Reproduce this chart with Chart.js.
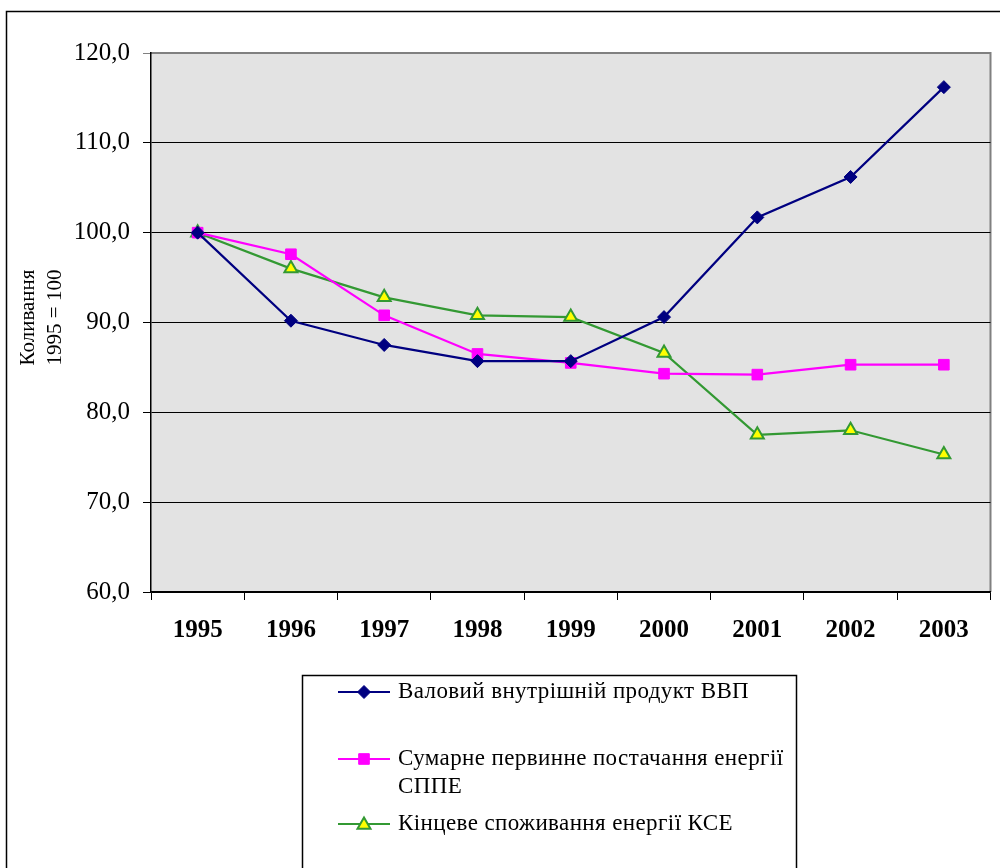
<!DOCTYPE html>
<html>
<head>
<meta charset="utf-8">
<script src="https://cdn.jsdelivr.net/npm/chart.js@4.4.1/dist/chart.umd.min.js"></script>
<style>
html,body{margin:0;padding:0;background:#fff;}
canvas{display:block;}
</style>
</head>
<body>
<canvas id="c" width="1000" height="868"></canvas>
<script>
const years = ['1995','1996','1997','1998','1999','2000','2001','2002','2003'];
const gdp  = [100.0, 90.2, 87.5, 85.7, 85.7, 90.6, 101.7, 106.2, 116.2];
const sppe = [100.0, 97.6, 90.8, 86.5, 85.5, 84.3, 84.2, 85.3, 85.3];
const kce  = [100.0, 96.0, 92.8, 90.8, 90.6, 86.6, 77.5, 78.0, 75.3];
const seriesNames = ['Валовий внутрішній продукт ВВП', 'Сумарне первинне постачання енергії СППЕ', 'Кінцеве споживання енергії КСЕ'];
const yTitle = ['Коливання', '1995 = 100'];

const SERIF = '"Liberation Serif", "Times New Roman", serif';

const decor = {
  id: 'decor',
  beforeDraw(chart) {
    const ctx = chart.ctx, a = chart.chartArea;
    ctx.save();
    ctx.fillStyle = '#fff';
    ctx.fillRect(0, 0, chart.width, chart.height);
    ctx.strokeStyle = '#000';
    ctx.lineWidth = 1.5;
    ctx.beginPath();
    ctx.moveTo(6.5, 869); ctx.lineTo(6.5, 11.5); ctx.lineTo(1001, 11.5);
    ctx.stroke();
    ctx.fillStyle = '#E3E3E3';
    ctx.fillRect(a.left, a.top, a.right - a.left, a.bottom - a.top);
    ctx.strokeStyle = '#808080';
    ctx.lineWidth = 2;
    ctx.beginPath();
    ctx.moveTo(a.left, a.top); ctx.lineTo(a.right, a.top); ctx.lineTo(a.right, a.bottom);
    ctx.stroke();
    ctx.restore();
  },
  afterDraw(chart) {
    const ctx = chart.ctx, a = chart.chartArea;
    ctx.save();
    // y title
    ctx.fillStyle = '#000';
    ctx.font = '21px ' + SERIF;
    ctx.textAlign = 'center';
    ctx.textBaseline = 'middle';
    const cy = (a.top + a.bottom) / 2 - 5;
    [[28, yTitle[0]], [55, yTitle[1]]].forEach(([x, t]) => {
      ctx.save();
      ctx.translate(x, cy);
      ctx.rotate(-Math.PI / 2);
      ctx.fillText(t, 0, 0);
      ctx.restore();
    });
    // legend box
    ctx.strokeStyle = '#000';
    ctx.lineWidth = 1.5;
    ctx.beginPath();
    ctx.moveTo(302.5, 870); ctx.lineTo(302.5, 675.5); ctx.lineTo(796.5, 675.5); ctx.lineTo(796.5, 870);
    ctx.stroke();
    const items = [
      {ds: 0, lines: [seriesNames[0]], y: 692},
      {ds: 1, lines: ['Сумарне первинне постачання енергії', 'СППЕ'], y: 759},
      {ds: 2, lines: [seriesNames[2]], y: 824}
    ];
    items.forEach(it => {
      const d = chart.data.datasets[it.ds];
      ctx.strokeStyle = d.borderColor;
      ctx.lineWidth = 2.2;
      ctx.beginPath();
      ctx.moveTo(338, it.y); ctx.lineTo(390, it.y);
      ctx.stroke();
      ctx.fillStyle = d.pointBackgroundColor;
      ctx.strokeStyle = d.pointBorderColor;
      ctx.lineWidth = d.pointBorderWidth;
      Chart.helpers.drawPoint(ctx, {
        pointStyle: d.pointStyle, radius: d.pointRadius, borderWidth: d.pointBorderWidth, rotation: 0
      }, 364, it.y + (d.pointStyle === 'triangle' ? 1 : 0));
      ctx.fillStyle = '#000';
      ctx.font = '23px ' + SERIF;
      ctx.textAlign = 'left';
      ctx.textBaseline = 'middle';
      try { ctx.letterSpacing = '0.4px'; } catch (e) {}
      it.lines.forEach((t, i) => ctx.fillText(t, 398, it.y + i * 28));
      try { ctx.letterSpacing = '0px'; } catch (e) {}
    });
    ctx.restore();
  }
};

const chart = new Chart(document.getElementById('c'), {
  type: 'line',
  data: {
    labels: years,
    datasets: [
      {label: seriesNames[0], data: gdp, borderColor: '#000080', backgroundColor: '#000080',
       pointStyle: 'rectRot', pointRadius: 6.5, pointBackgroundColor: '#000080', pointBorderColor: '#000080', pointBorderWidth: 1, borderWidth: 2.2},
      {label: seriesNames[1], data: sppe, borderColor: '#FF00FF', backgroundColor: '#FF00FF',
       pointStyle: 'rect', pointRadius: 7.5, pointBackgroundColor: '#FF00FF', pointBorderColor: '#FF00FF', pointBorderWidth: 1, borderWidth: 2.2},
      {label: seriesNames[2], data: kce, borderColor: '#339933', backgroundColor: '#339933',
       pointStyle: 'triangle', pointRadius: 7.5, pointBackgroundColor: '#FFFF00', pointBorderColor: '#339933', pointBorderWidth: 2, borderWidth: 2.2}
    ]
  },
  options: {
    responsive: false,
    animation: false,
    devicePixelRatio: 1,
    layout: {padding: {left: 0, top: 53, right: 7, bottom: 0}},
    plugins: {legend: {display: false}, tooltip: {enabled: false}},
    scales: {
      x: {
        offset: true,
        grid: {offset: true, drawOnChartArea: false, drawTicks: true, tickLength: 8, color: '#000', lineWidth: 1},
        border: {color: '#000', width: 1.5},
        ticks: {color: '#000', padding: 16, font: {family: SERIF, size: 25, weight: 'bold'}, maxRotation: 0},
        afterFit(s) { s.height = 868 - 592; }
      },
      y: {
        min: 60, max: 120,
        grid: {color: (c) => c.tick && c.tick.value === 120 ? '#808080' : '#000', lineWidth: 1, tickLength: 8},
        border: {color: '#000', width: 1.5},
        ticks: {stepSize: 10, color: '#000', padding: 13, font: {family: SERIF, size: 25},
          callback: (v) => v.toFixed(1).replace('.', ',')},
        afterFit(s) { s.width = 151; }
      }
    }
  },
  plugins: [decor]
});
</script>
</body>
</html>
